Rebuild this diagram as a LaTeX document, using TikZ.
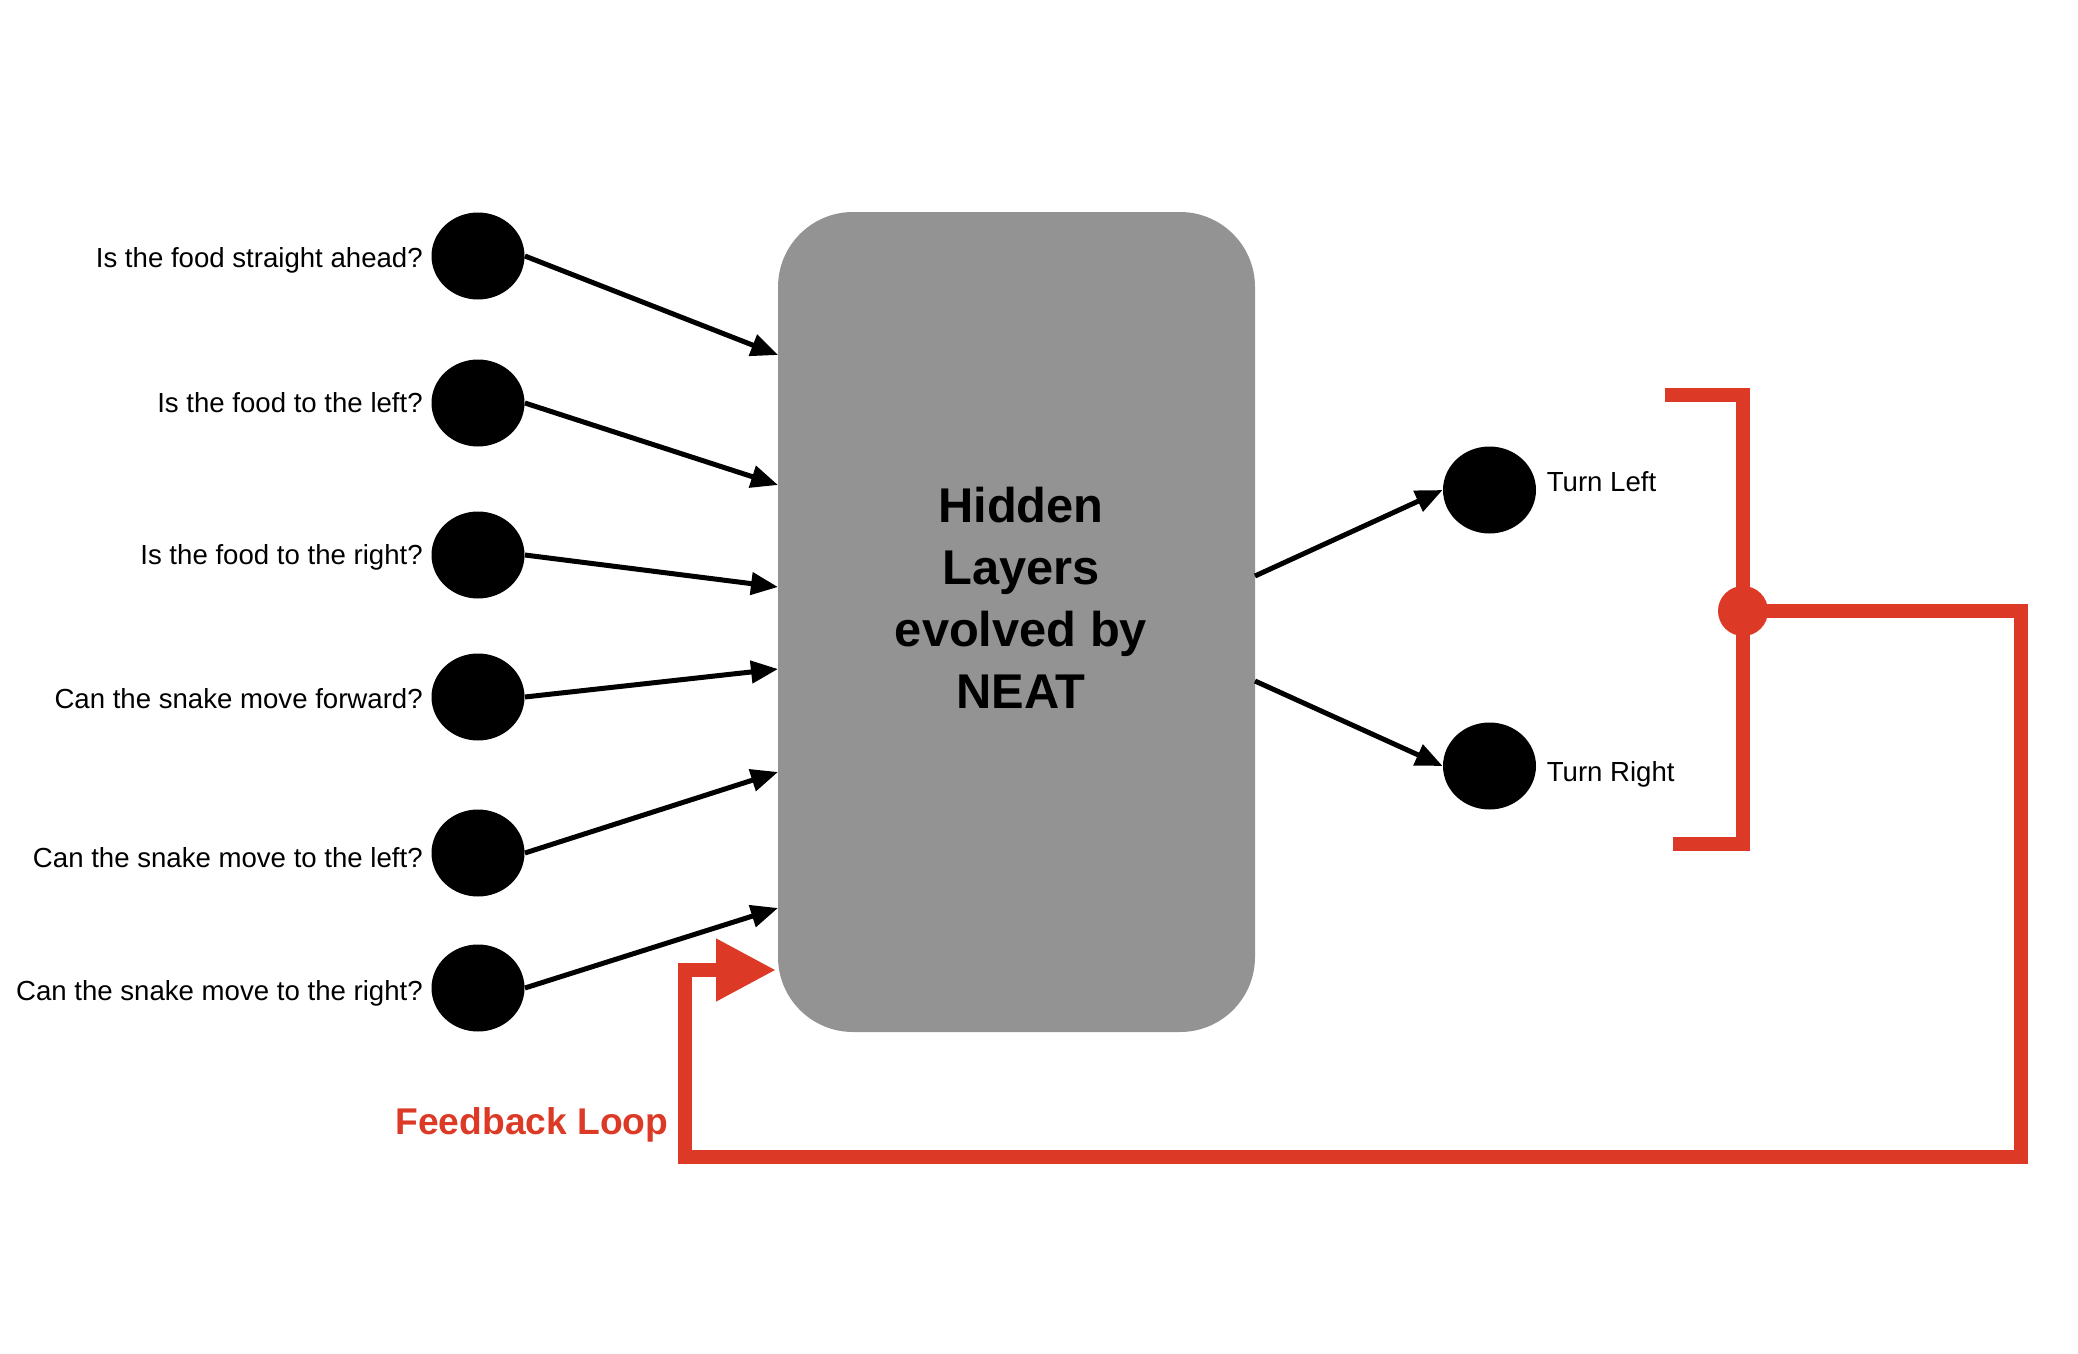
\documentclass[tikz,border=0pt]{standalone}
\usepackage{fontspec}
\setmainfont{Liberation Sans}
\usepackage{xcolor}
\usepackage{tikz}
\usetikzlibrary{arrows.meta, positioning}
\usetikzlibrary{shapes.geometric}

\definecolor{loopred}{HTML}{DC3A26}
\definecolor{layergray}{HTML}{939393}

\tikzset{
  neuron/.style={ellipse,fill=black,inner sep=0pt,minimum width=46.5pt,minimum height=43.5pt},
  question/.style={inner sep=0pt,font=\fontsize{13.8}{16}\selectfont},
  link/.style={line width=2.5pt,-{Triangle[length=13.5pt,width=11pt]}},
  feedback/.style={draw=loopred,line width=7pt,line join=miter},
}

\begin{document}
\begin{tikzpicture}[x=0.5pt,y=-0.5pt]
            \useasboundingbox (0,0) rectangle (2078,1354);
            % inputs
            \node[neuron](in1) at (478,256) {};
            \node[neuron](in2) at (478,403) {};
            \node[neuron](in3) at (478,555) {};
            \node[neuron](in4) at (478,697) {};
            \node[neuron](in5) at (478,853) {};
            \node[neuron](in6) at (478,988) {};
            \node[question,left=4pt of in1,yshift=-2pt](q1) {Is the food straight ahead?};
            \node[question,left=4pt of in2](q2) {Is the food to the left?};
            \node[question,left=4pt of in3,yshift=-1pt](q3) {Is the food to the right?};
            \node[question,left=4pt of in4,yshift=-1pt](q4) {Can the snake move forward?};
            \node[question,left=4pt of in5,yshift=-2.5pt](q5) {Can the snake move to the left?};
            \node[question,left=4pt of in6,yshift=-2.5pt](q6) {Can the snake move to the right?};
            % hidden layers
            \node[fill=layergray,rounded corners=37.5pt,minimum width=238.5pt,minimum height=410pt](hidden) at (1016.5,622) {};
            \node[align=center,font=\bfseries\fontsize{24.4}{31}\selectfont](title) at (1021,598) {Hidden\\Layers\\evolved by\\NEAT};
            \coordinate (h1) at (778,355);
            \coordinate (h2) at (778,485);
            \coordinate (h3) at (778,587);
            \coordinate (h4) at (778,669);
            \coordinate (h5) at (778,772);
            \coordinate (h6) at (778,908);
            \coordinate (o1) at (1255,576);
            \coordinate (o2) at (1255,681);
            % outputs
            \node[neuron](out1) at (1489.5,490) {};
            \node[neuron](out2) at (1489.5,766) {};
            \node[question,right=5pt of out1,yshift=4pt](a1) {Turn Left};
            \node[question,right=5pt of out2,yshift=-4pt](a2) {Turn Right};
            \draw[link] (in1.east) -- (h1);
            \draw[link] (in2.east) -- (h2);
            \draw[link] (in3.east) -- (h3);
            \draw[link] (in4.east) -- (h4);
            \draw[link] (in5.east) -- (h5);
            \draw[link] (in6.east) -- (h6);
            \draw[link] (o1) -- (out1.west);
            \draw[link] (o2) -- (out2.west);
            % feedback loop
            \coordinate (fbend) at (776,970);
            \draw[feedback] (1665,395) -| (1743,844) -- (1673,844);
            \draw[feedback,-{Triangle[length=30pt,width=29.5pt]}] (1743,611) -| (2021,1157) -| (685,970) -- (fbend);
            \node[circle,fill=loopred,minimum size=25pt,inner sep=0pt](junc) at (1743,611) {};
            \node[text=loopred,font=\bfseries\fontsize{18.6}{22}\selectfont](fblabel) at (532,1125) {Feedback Loop};
        \end{tikzpicture}
\end{document}
